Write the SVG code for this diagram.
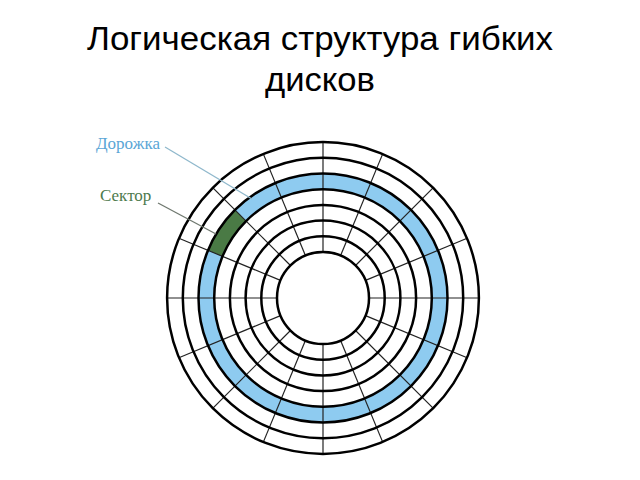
<svg xmlns="http://www.w3.org/2000/svg" xmlns:xlink="http://www.w3.org/1999/xlink" width="640" height="480" viewBox="0 0 640 480">
  <style>
    .title { font-family: "Liberation Sans", Arial, sans-serif; font-size: 33px; fill: #000; }
    .label { font-family: "Liberation Serif", "Times New Roman", serif; font-size: 17px; }
    .ring { fill: none; stroke: #000; stroke-width: 2.5; }
    .spoke { stroke: #222; stroke-width: 1.2; }
  </style>
  <defs>
    <line id="spoke" class="spoke" x1="369" y1="298" x2="479" y2="298"/>
  </defs>
  <rect width="640" height="480" fill="#fff"/>
  <g id="title">
    <text class="title" x="320" y="50" text-anchor="middle" textLength="466" lengthAdjust="spacingAndGlyphs">Логическая структура гибких</text>
    <text class="title" x="320" y="91" text-anchor="middle" textLength="110" lengthAdjust="spacingAndGlyphs">дисков</text>
  </g>
  <g id="disk">
    <circle id="track" cx="323" cy="298" r="116.65" fill="none" stroke="#8ecbf0" stroke-width="15.7"/>
    <path id="sector" d="M 234.97 209.97 A 124.5 124.5 0 0 0 207.98 250.36 L 222.48 256.36 A 108.8 108.8 0 0 1 246.07 221.07 Z" fill="#4a7a45"/>
    <g id="spokes">
      <use xlink:href="#spoke"/>
      <use xlink:href="#spoke" transform="rotate(22.5 323 298)"/>
      <use xlink:href="#spoke" transform="rotate(45 323 298)"/>
      <use xlink:href="#spoke" transform="rotate(67.5 323 298)"/>
      <use xlink:href="#spoke" transform="rotate(90 323 298)"/>
      <use xlink:href="#spoke" transform="rotate(112.5 323 298)"/>
      <use xlink:href="#spoke" transform="rotate(135 323 298)"/>
      <use xlink:href="#spoke" transform="rotate(157.5 323 298)"/>
      <use xlink:href="#spoke" transform="rotate(180 323 298)"/>
      <use xlink:href="#spoke" transform="rotate(202.5 323 298)"/>
      <use xlink:href="#spoke" transform="rotate(225 323 298)"/>
      <use xlink:href="#spoke" transform="rotate(247.5 323 298)"/>
      <use xlink:href="#spoke" transform="rotate(270 323 298)"/>
      <use xlink:href="#spoke" transform="rotate(292.5 323 298)"/>
      <use xlink:href="#spoke" transform="rotate(315 323 298)"/>
      <use xlink:href="#spoke" transform="rotate(337.5 323 298)"/>
    </g>
    <g id="rings">
      <circle class="ring" cx="323" cy="298" r="46"/>
      <circle class="ring" cx="323" cy="298" r="61.7"/>
      <circle class="ring" cx="323" cy="298" r="77.4"/>
      <circle class="ring" cx="323" cy="298" r="93.1"/>
      <circle class="ring" cx="323" cy="298" r="108.8"/>
      <circle class="ring" cx="323" cy="298" r="124.5"/>
      <circle class="ring" cx="323" cy="298" r="140.2"/>
      <circle class="ring" cx="323" cy="298" r="155.9"/>
    </g>
  </g>
  <g id="connectors">
    <line x1="165" y1="147" x2="252" y2="199" stroke="#8fb8cc" stroke-width="1.3"/>
    <line x1="158" y1="203" x2="216" y2="234" stroke="#6f786f" stroke-width="1.3"/>
  </g>
  <g id="label-track">
    <text class="label" x="96" y="149" fill="#5aa6d6">Дорожка</text>
  </g>
  <g id="label-sector">
    <text class="label" x="100" y="201" fill="#4d7a4d">Сектор</text>
  </g>
</svg>
